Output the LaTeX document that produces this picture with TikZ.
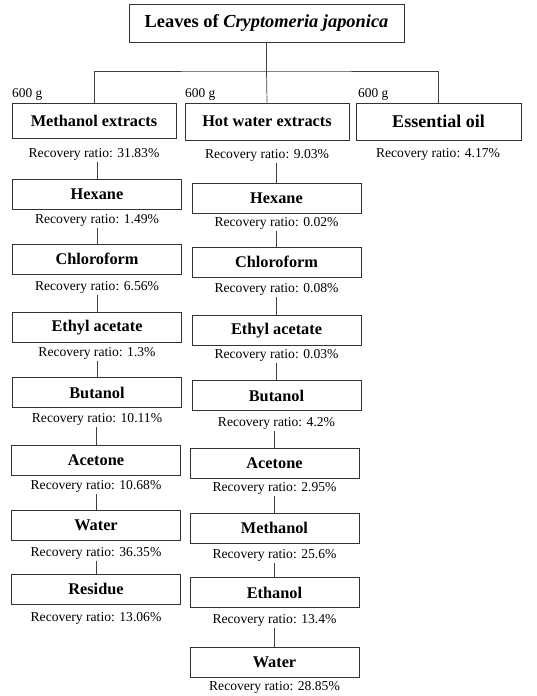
\documentclass[tikz,border=0pt]{standalone}
\usepackage{fontspec}
\setmainfont{Liberation Serif}
\usetikzlibrary{positioning}

\tikzset{
  stepbox/.style={draw=black!80, line width=0.9pt, rectangle, inner sep=0pt,
    minimum width=169pt, minimum height=30pt, font=\fontsize{16.3}{19}\selectfont\bfseries},
  ratio/.style={inner sep=1.5pt, font=\fontsize{13.6}{16}\selectfont},
  mass/.style={anchor=base west, inner sep=0pt, font=\fontsize{13.4}{16}\selectfont},
  link/.style={draw=black!75, line width=0.7pt}
}

\begin{document}
\begin{tikzpicture}[x=1pt, y=-1pt]
  \useasboundingbox (0,0) rectangle (537,696);

  % source and the three extractions
  \node[stepbox, minimum width=275pt, minimum height=38pt, font=\fontsize{18.4}{21}\selectfont\bfseries] (leaves) at (266.5,23) {Leaves of \textit{Cryptomeria japonica}};
  \node[stepbox, minimum width=164pt, minimum height=35pt] (me) at (94,120.5) {Methanol extracts};
  \node[stepbox, minimum width=164pt, minimum height=37pt] (hw) at (267,121.5) {Hot water extracts};
  \node[stepbox, minimum width=165pt, minimum height=37pt, font=\fontsize{18}{21}\selectfont\bfseries] (eo) at (438.5,121.5) {Essential oil};
  \node[mass] (gme) at (12,97) {600 g};
  \node[mass] (ghw) at (185,97) {600 g};
  \node[mass] (geo) at (358,97) {600 g};
  \node[ratio] (rme) at (94,154) {Recovery ratio: 31.83\%};
  \node[ratio] (rhw) at (267,155) {Recovery ratio: 9.03\%};
  \node[ratio] (reo) at (438,154) {Recovery ratio: 4.17\%};

  \coordinate (split) at (266.5,71);
  \draw[link] (leaves.south) -- (split);
  \draw[link] (me.north) |- (split) -| (eo.north);
  \draw[link] (split) -- (hw.north);

  % methanol extracts column
  \node[stepbox] (lhex) at (97,194.5) {Hexane};
  \node[ratio] (rlhex) at (97,220) {Recovery ratio: 1.49\%};
  \node[stepbox] (lchl) at (97,259) {Chloroform};
  \node[ratio] (rlchl) at (97,287) {Recovery ratio: 6.56\%};
  \node[stepbox] (leta) at (97,327.5) {Ethyl acetate};
  \node[ratio] (rleta) at (97,353) {Recovery ratio: 1.3\%};
  \node[stepbox] (lbut) at (97,392.5) {Butanol};
  \node[ratio] (rlbut) at (97,419) {Recovery ratio: 10.11\%};
  \node[stepbox] (lace) at (96,460.5) {Acetone};
  \node[ratio] (rlace) at (96,486) {Recovery ratio: 10.68\%};
  \node[stepbox] (lwat) at (96,525.5) {Water};
  \node[ratio] (rlwat) at (96,553) {Recovery ratio: 36.35\%};
  \node[stepbox] (lres) at (96,589) {Residue};
  \node[ratio] (rlres) at (96,618) {Recovery ratio: 13.06\%};

  % hot water extracts column
  \node[stepbox] (mhex) at (276.5,198) {Hexane};
  \node[ratio] (rmhex) at (276.5,223) {Recovery ratio: 0.02\%};
  \node[stepbox] (mchl) at (276.5,262) {Chloroform};
  \node[ratio] (rmchl) at (276.5,289) {Recovery ratio: 0.08\%};
  \node[stepbox] (meta) at (276.5,330.5) {Ethyl acetate};
  \node[ratio] (rmeta) at (276.5,355) {Recovery ratio: 0.03\%};
  \node[stepbox] (mbut) at (276.5,395.5) {Butanol};
  \node[ratio] (rmbut) at (276.5,423) {Recovery ratio: 4.2\%};
  \node[stepbox] (mace) at (274.5,463) {Acetone};
  \node[ratio] (rmace) at (274.5,488) {Recovery ratio: 2.95\%};
  \node[stepbox] (mmet) at (274.5,528) {Methanol};
  \node[ratio] (rmmet) at (274.5,555) {Recovery ratio: 25.6\%};
  \node[stepbox] (meto) at (274.5,592.5) {Ethanol};
  \node[ratio] (rmeto) at (274.5,620) {Recovery ratio: 13.4\%};
  \node[stepbox] (mwat) at (274.5,662) {Water};
  \node[ratio] (rmwat) at (274.5,687) {Recovery ratio: 28.85\%};

  % connectors between steps
  \foreach \a/\b in {rme/lhex, rlhex/lchl, rlchl/leta, rleta/lbut, rlbut/lace, rlace/lwat, rlwat/lres,
                     rhw/mhex, rmhex/mchl, rmchl/meta, rmeta/mbut, rmbut/mace, rmace/mmet, rmmet/meto, rmeto/mwat}
    \draw[link] (\b.north |- \a.south) -- (\b.north);
\end{tikzpicture}
\end{document}
